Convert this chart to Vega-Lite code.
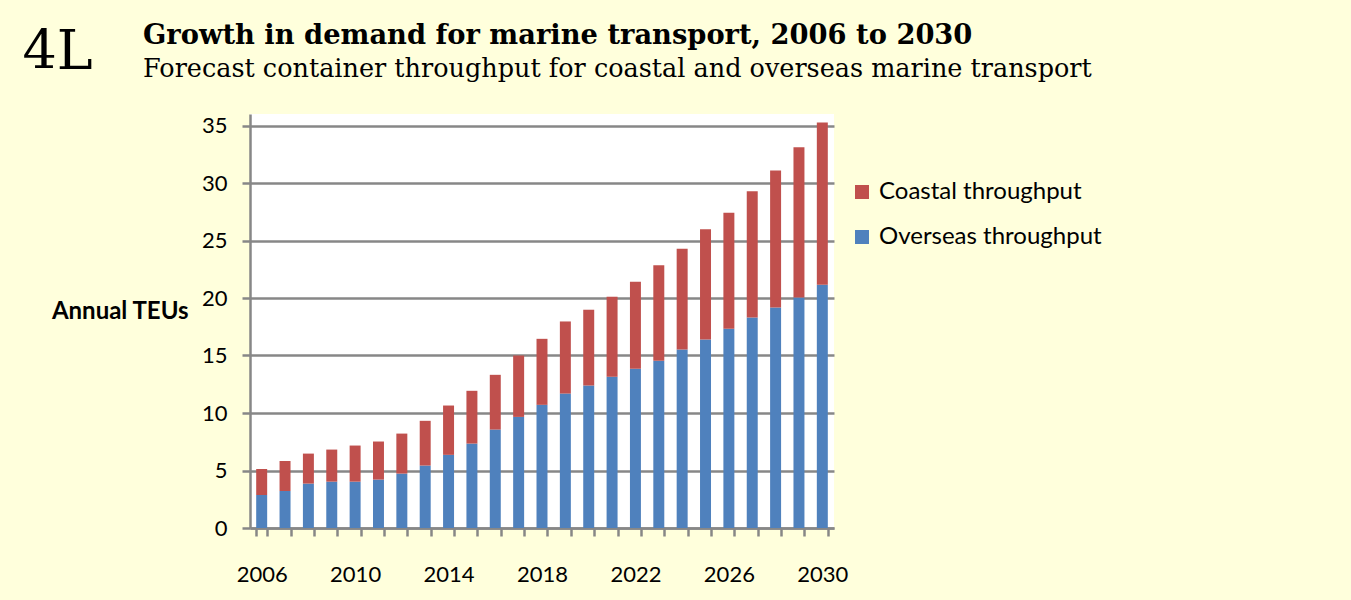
{
  "$schema": "https://vega.github.io/schema/vega-lite/v6.json",
  "width": 584,
  "height": 414,
  "autosize": {"type": "none"},
  "padding": {"left": 250, "top": 114, "right": 517, "bottom": 72},
  "background": "#FFFFDC",
  "title": {
    "text": "Growth in demand for marine transport, 2006 to 2030",
    "subtitle": "Forecast container throughput for coastal and overseas marine transport",
    "anchor": "start",
    "frame": "group",
    "dx": -107,
    "offset": -57,
    "font": "DejaVu Serif",
    "fontSize": 27.3,
    "fontWeight": "bold",
    "color": "#000000",
    "subtitleFont": "DejaVu Serif",
    "subtitleFontSize": 25.5,
    "subtitleColor": "#000000",
    "subtitlePadding": 7
  },
  "data": {
    "values": [
      {"year": "2006", "series": "Overseas throughput", "teu": 2.87},
      {"year": "2006", "series": "Coastal throughput", "teu": 2.27},
      {"year": "2007", "series": "Overseas throughput", "teu": 3.22},
      {"year": "2007", "series": "Coastal throughput", "teu": 2.61},
      {"year": "2008", "series": "Overseas throughput", "teu": 3.86},
      {"year": "2008", "series": "Coastal throughput", "teu": 2.61},
      {"year": "2009", "series": "Overseas throughput", "teu": 4.03},
      {"year": "2009", "series": "Coastal throughput", "teu": 2.79},
      {"year": "2010", "series": "Overseas throughput", "teu": 4.03},
      {"year": "2010", "series": "Coastal throughput", "teu": 3.14},
      {"year": "2011", "series": "Overseas throughput", "teu": 4.21},
      {"year": "2011", "series": "Coastal throughput", "teu": 3.31},
      {"year": "2012", "series": "Overseas throughput", "teu": 4.73},
      {"year": "2012", "series": "Coastal throughput", "teu": 3.48},
      {"year": "2013", "series": "Overseas throughput", "teu": 5.43},
      {"year": "2013", "series": "Coastal throughput", "teu": 3.89},
      {"year": "2014", "series": "Overseas throughput", "teu": 6.36},
      {"year": "2014", "series": "Coastal throughput", "teu": 4.29},
      {"year": "2015", "series": "Overseas throughput", "teu": 7.34},
      {"year": "2015", "series": "Coastal throughput", "teu": 4.59},
      {"year": "2016", "series": "Overseas throughput", "teu": 8.56},
      {"year": "2016", "series": "Coastal throughput", "teu": 4.76},
      {"year": "2017", "series": "Overseas throughput", "teu": 9.66},
      {"year": "2017", "series": "Coastal throughput", "teu": 5.34},
      {"year": "2018", "series": "Overseas throughput", "teu": 10.71},
      {"year": "2018", "series": "Coastal throughput", "teu": 5.74},
      {"year": "2019", "series": "Overseas throughput", "teu": 11.69},
      {"year": "2019", "series": "Coastal throughput", "teu": 6.27},
      {"year": "2020", "series": "Overseas throughput", "teu": 12.39},
      {"year": "2020", "series": "Coastal throughput", "teu": 6.59},
      {"year": "2021", "series": "Overseas throughput", "teu": 13.15},
      {"year": "2021", "series": "Coastal throughput", "teu": 6.96},
      {"year": "2022", "series": "Overseas throughput", "teu": 13.84},
      {"year": "2022", "series": "Coastal throughput", "teu": 7.58},
      {"year": "2023", "series": "Overseas throughput", "teu": 14.54},
      {"year": "2023", "series": "Coastal throughput", "teu": 8.30},
      {"year": "2024", "series": "Overseas throughput", "teu": 15.52},
      {"year": "2024", "series": "Coastal throughput", "teu": 8.77},
      {"year": "2025", "series": "Overseas throughput", "teu": 16.39},
      {"year": "2025", "series": "Coastal throughput", "teu": 9.58},
      {"year": "2026", "series": "Overseas throughput", "teu": 17.33},
      {"year": "2026", "series": "Coastal throughput", "teu": 10.09},
      {"year": "2027", "series": "Overseas throughput", "teu": 18.31},
      {"year": "2027", "series": "Coastal throughput", "teu": 10.97},
      {"year": "2028", "series": "Overseas throughput", "teu": 19.18},
      {"year": "2028", "series": "Coastal throughput", "teu": 11.90},
      {"year": "2029", "series": "Overseas throughput", "teu": 20.05},
      {"year": "2029", "series": "Coastal throughput", "teu": 13.06},
      {"year": "2030", "series": "Overseas throughput", "teu": 21.16},
      {"year": "2030", "series": "Coastal throughput", "teu": 14.10}
    ]
  },
  "mark": {"type": "bar"},
  "encoding": {
    "x": {
      "field": "year",
      "type": "ordinal",
      "scale": {"paddingInner": 0.53, "paddingOuter": 0.265},
      "axis": {
        "title": "4L",
        "titleFont": "DejaVu Serif",
        "titleFontSize": 54,
        "titleFontWeight": "normal",
        "titleColor": "#000000",
        "titleX": -228,
        "titleY": -460,
        "titleAlign": "left",
        "titleBaseline": "alphabetic",
        "titleAngle": 0,
        "labelAngle": 0,
        "labelExpr": "(toNumber(datum.value) - 2006) % 4 == 0 ? datum.value : ''",
        "labelOverlap": false,
        "labelFont": "Lato",
        "labelFontSize": 22,
        "labelColor": "#000000",
        "labelPadding": 28,
        "tickBand": "extent",
        "tickSize": 8,
        "tickWidth": 2.5,
        "tickColor": "#878787",
        "domainColor": "#878787",
        "domainWidth": 2.5
      }
    },
    "y": {
      "field": "teu",
      "type": "quantitative",
      "stack": "zero",
      "scale": {"domain": [0, 36], "nice": false},
      "axis": {
        "values": [0, 5, 10, 15, 20, 25, 30, 35],
        "title": "Annual TEUs",
        "titleFont": "Lato",
        "titleFontSize": 24,
        "titleFontWeight": "bold",
        "titleColor": "#000000",
        "titleAngle": 0,
        "titleX": -62,
        "titleY": 197,
        "titleAlign": "right",
        "titleBaseline": "middle",
        "labelFont": "Lato",
        "labelFontSize": 22,
        "labelColor": "#000000",
        "labelPadding": 15,
        "tickSize": 8,
        "tickWidth": 2.5,
        "tickColor": "#878787",
        "domainColor": "#878787",
        "domainWidth": 2.5,
        "grid": true,
        "gridColor": "#878787",
        "gridWidth": 2.5
      }
    },
    "color": {
      "field": "series",
      "type": "nominal",
      "scale": {
        "domain": ["Coastal throughput", "Overseas throughput"],
        "range": ["#C0504D", "#4F81BD"]
      },
      "legend": {
        "title": null,
        "orient": "none",
        "legendX": 600,
        "legendY": 66,
        "padding": 0,
        "symbolType": "square",
        "symbolSize": 196,
        "symbolStrokeWidth": 0,
        "labelFont": "Lato",
        "labelFontSize": 24,
        "labelColor": "#000000",
        "labelLimit": 0,
        "labelOffset": 5,
        "rowPadding": 21
      }
    },
    "order": {"field": "series", "sort": "descending"}
  },
  "config": {"view": {"stroke": null, "fill": "#FFFFFF"}}
}
